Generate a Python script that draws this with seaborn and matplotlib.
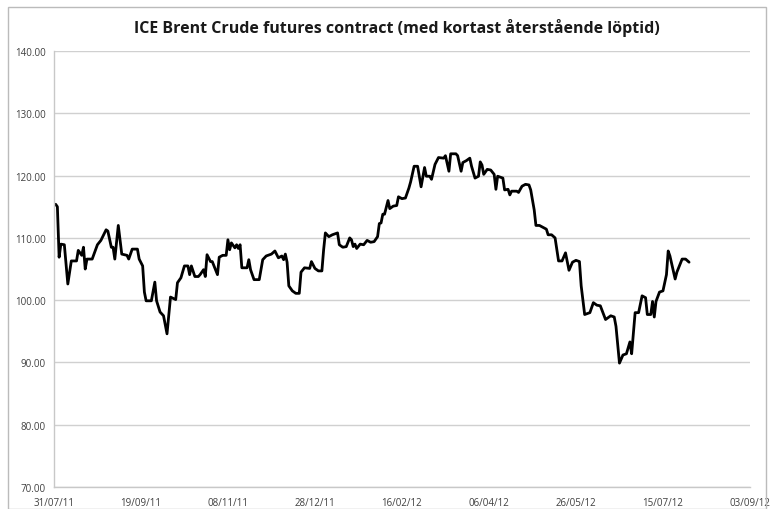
import numpy as np
import pandas as pd
import seaborn as sns
import matplotlib.pyplot as plt
import matplotlib.dates as mdates
from matplotlib.ticker import FormatStrFormatter
from matplotlib.patches import Rectangle

sns.set_style("white")
plt.rcParams['font.family'] = ['Open Sans', 'DejaVu Sans']

# front-month Brent
dates = [
    "2011-08-01", "2011-08-02", "2011-08-03", "2011-08-04", "2011-08-06", "2011-08-08",
    "2011-08-10", "2011-08-13", "2011-08-14", "2011-08-16", "2011-08-17", "2011-08-18",
    "2011-08-19", "2011-08-22", "2011-08-25", "2011-08-27", "2011-08-30", "2011-08-31",
    "2011-09-02", "2011-09-03", "2011-09-04", "2011-09-06", "2011-09-08", "2011-09-11",
    "2011-09-12", "2011-09-14", "2011-09-17", "2011-09-18", "2011-09-20", "2011-09-21",
    "2011-09-22", "2011-09-25", "2011-09-27", "2011-09-28", "2011-09-30", "2011-10-02",
    "2011-10-04", "2011-10-06", "2011-10-09", "2011-10-10", "2011-10-12", "2011-10-14",
    "2011-10-16", "2011-10-17", "2011-10-18", "2011-10-20", "2011-10-22", "2011-10-23",
    "2011-10-25", "2011-10-26", "2011-10-27", "2011-10-29", "2011-10-30", "2011-11-02",
    "2011-11-03", "2011-11-05", "2011-11-07", "2011-11-08", "2011-11-09", "2011-11-10",
    "2011-11-12", "2011-11-13", "2011-11-14", "2011-11-15", "2011-11-16", "2011-11-19",
    "2011-11-20", "2011-11-21", "2011-11-23", "2011-11-26", "2011-11-28", "2011-11-30",
    "2011-12-03", "2011-12-05", "2011-12-07", "2011-12-09", "2011-12-10", "2011-12-11",
    "2011-12-12", "2011-12-13", "2011-12-15", "2011-12-17", "2011-12-19", "2011-12-20",
    "2011-12-22", "2011-12-25", "2011-12-26", "2011-12-28", "2011-12-30", "2012-01-01",
    "2012-01-02", "2012-01-03", "2012-01-05", "2012-01-07", "2012-01-10", "2012-01-11",
    "2012-01-13", "2012-01-15", "2012-01-17", "2012-01-18", "2012-01-19", "2012-01-20",
    "2012-01-21", "2012-01-23", "2012-01-25", "2012-01-27", "2012-01-29", "2012-01-31",
    "2012-02-02", "2012-02-03", "2012-02-04", "2012-02-05", "2012-02-06", "2012-02-08",
    "2012-02-09", "2012-02-11", "2012-02-13", "2012-02-14", "2012-02-16", "2012-02-18",
    "2012-02-20", "2012-02-21", "2012-02-23", "2012-02-25", "2012-02-27", "2012-02-29",
    "2012-03-01", "2012-03-03", "2012-03-04", "2012-03-06", "2012-03-08", "2012-03-11",
    "2012-03-12", "2012-03-14", "2012-03-15", "2012-03-18", "2012-03-19", "2012-03-21",
    "2012-03-22", "2012-03-24", "2012-03-26", "2012-03-27", "2012-03-29", "2012-03-31",
    "2012-04-01", "2012-04-02", "2012-04-03", "2012-04-05", "2012-04-07", "2012-04-09",
    "2012-04-10", "2012-04-11", "2012-04-14", "2012-04-15", "2012-04-17", "2012-04-18",
    "2012-04-19", "2012-04-22", "2012-04-23", "2012-04-25", "2012-04-27", "2012-04-29",
    "2012-04-30", "2012-05-02", "2012-05-03", "2012-05-05", "2012-05-07", "2012-05-09",
    "2012-05-10", "2012-05-12", "2012-05-14", "2012-05-16", "2012-05-18", "2012-05-20",
    "2012-05-22", "2012-05-24", "2012-05-26", "2012-05-28", "2012-05-29", "2012-05-31",
    "2012-06-03", "2012-06-05", "2012-06-07", "2012-06-09", "2012-06-12", "2012-06-15",
    "2012-06-17", "2012-06-18", "2012-06-20", "2012-06-22", "2012-06-24", "2012-06-26",
    "2012-06-27", "2012-06-29", "2012-07-01", "2012-07-03", "2012-07-05", "2012-07-06",
    "2012-07-08", "2012-07-09", "2012-07-10", "2012-07-11", "2012-07-13", "2012-07-15",
    "2012-07-17", "2012-07-18", "2012-07-19", "2012-07-22", "2012-07-23", "2012-07-26",
    "2012-07-28", "2012-07-30",
]
price = [
    115.4, 115.0, 106.9, 109.0, 108.9, 102.6,
    106.3, 106.3, 108.0, 107.2, 108.5, 105.0,
    106.6, 106.6, 108.9, 109.6, 111.3, 111.1,
    108.5, 108.5, 106.6, 112.0, 107.4, 107.2,
    106.6, 108.2, 108.2, 106.6, 105.5, 101.3,
    99.9, 99.9, 102.9, 99.9, 98.1, 97.5,
    94.6, 100.5, 100.1, 102.8, 103.6, 105.5,
    105.5, 104.1, 105.5, 103.8, 103.8, 104.1,
    104.9, 103.8, 107.3, 106.2, 106.2, 104.1,
    106.9, 107.2, 107.2, 109.7, 108.1, 109.2,
    108.4, 108.9, 108.3, 108.9, 105.2, 105.2,
    106.5, 104.9, 103.3, 103.3, 106.5, 107.1,
    107.4, 107.9, 106.8, 107.1, 106.5, 107.4,
    106.1, 102.3, 101.5, 101.1, 101.1, 104.5,
    105.2, 105.1, 106.2, 105.1, 104.7, 104.7,
    108.1, 110.8, 110.2, 110.5, 110.8, 108.9,
    108.5, 108.6, 110.0, 109.7, 108.6, 109.0,
    108.3, 109.0, 108.9, 109.6, 109.3, 109.4,
    110.2, 112.3, 112.4, 113.8, 113.8, 116.0,
    114.7, 115.1, 115.2, 116.6, 116.3, 116.4,
    118.0, 119.0, 121.5, 121.5, 118.2, 121.3,
    119.9, 119.9, 119.4, 121.8, 122.9, 122.8,
    123.2, 120.7, 123.5, 123.5, 123.2, 120.7,
    122.1, 122.4, 122.8, 121.5, 119.6, 119.9,
    122.2, 121.7, 120.2, 121.0, 120.9, 120.2,
    117.8, 119.9, 119.6, 117.7, 117.8, 116.9,
    117.5, 117.5, 117.3, 118.3, 118.6, 118.5,
    117.7, 114.5, 112.0, 112.0, 111.7, 111.4,
    110.5, 110.5, 110.0, 106.3, 106.3, 107.6,
    104.8, 106.1, 106.4, 106.2, 102.3, 97.7,
    98.0, 99.6, 99.2, 99.1, 96.9, 97.5,
    97.3, 95.8, 89.9, 91.2, 91.4, 93.3,
    91.4, 98.0, 98.0, 100.7, 100.4, 97.7,
    97.7, 99.8, 97.3, 99.8, 101.3, 101.5,
    104.1, 107.9, 107.1, 103.4, 104.5, 106.6,
    106.6, 106.1,
]
tick_dates = ["2011-07-31", "2011-09-19", "2011-11-08", "2011-12-28", "2012-02-16",
              "2012-04-06", "2012-05-26", "2012-07-15", "2012-09-03"]
y_ticks = [70, 80, 90, 100, 110, 120, 130, 140]

df = pd.DataFrame({"date": pd.to_datetime(dates), "price": price})

fig = plt.figure(figsize=(7.7, 5.1), dpi=100)
ax = fig.add_axes([0.070, 0.043, 0.904, 0.855])

sns.lineplot(data=df, x="date", y="price", color="black", linewidth=2.0, ax=ax)

ax.set_xlim(pd.Timestamp(tick_dates[0]), pd.Timestamp(tick_dates[-1]))
ax.set_ylim(70, 140)
ax.set_xticks(pd.to_datetime(tick_dates))
ax.xaxis.set_major_formatter(mdates.DateFormatter("%d/%m/%y"))
ax.set_yticks(y_ticks)
ax.yaxis.set_major_formatter(FormatStrFormatter("%.2f"))
ax.set_xlabel("")
ax.set_ylabel("")

ax.grid(axis="y", color="#d0d0d0", linewidth=1.0)
ax.grid(axis="x", visible=False)
ax.set_axisbelow(True)
for s in ["top", "right"]:
    ax.spines[s].set_visible(False)
for s in ["left", "bottom"]:
    ax.spines[s].set_color("#c8c8c8")
    ax.spines[s].set_linewidth(1.0)
ax.tick_params(axis="both", labelsize=7, colors="#c8c8c8", labelcolor="#404040",
               length=4, width=1.0, direction="out", pad=2)
ax.tick_params(axis="x", pad=3)

fig.suptitle("ICE Brent Crude futures contract (med kortast återstående löptid)",
             x=0.515, y=0.963, fontsize=11.5, fontweight="bold", color="#1a1a1a")

fig.patches.append(Rectangle((0.01, 0.0), 0.985, 0.985, transform=fig.transFigure,
                             fill=False, edgecolor="#bbbbbb", linewidth=1.0))

fig.savefig("out.png", dpi=100)
